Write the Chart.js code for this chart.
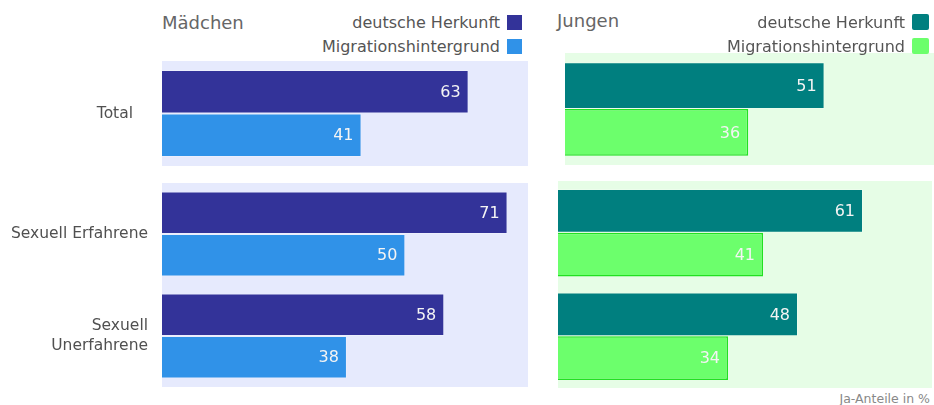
<!DOCTYPE html>
<html>
<head>
<meta charset="utf-8">
<script src="https://cdn.jsdelivr.net/npm/chart.js@4/dist/chart.umd.min.js"></script>
<style>
  body { margin: 0; background: #fff; font-family: 'DejaVu Sans', Verdana, sans-serif; }
  #root { position: relative; width: 934px; height: 405px; overflow: hidden; }
  .box { position: absolute; }
  .title { position: absolute; font-size: 18px; color: #666; line-height: 1; }
  .legend { position: absolute; font-size: 16px; color: #555; text-align: right; z-index: 2; }
  .legend div { height: 24px; line-height: 24px; white-space: nowrap; }
  .legend span.sw { display: inline-block; width: 15px; height: 15px; vertical-align: -2px; margin-left: 7px; }
  .note { position: absolute; right: 4px; top: 391px; font-size: 12.5px; color: #888; }
</style>
</head>
<body>
<div id="root">
  <div class="title" style="left:162px; top:14px;">Mädchen</div>
  <div class="title" style="left:557px; top:12px;">Jungen</div>
  <div class="legend" id="legend-girls" style="right:412px; top:11px;"></div>
  <div class="legend" id="legend-boys" style="right:5px; top:11px;"></div>

  <div class="box" style="left:0; top:61px; width:528px; height:105px;"><canvas id="girls-total"></canvas></div>
  <div class="box" style="left:0; top:183px; width:528px; height:204px;"><canvas id="girls-groups"></canvas></div>
  <div class="box" style="left:565px; top:53px; width:369px; height:112px;"><canvas id="boys-total"></canvas></div>
  <div class="box" style="left:558px; top:181px; width:374px; height:207px;"><canvas id="boys-groups"></canvas></div>

  <div class="note">Ja-Anteile in %</div>
</div>

<script>
// ================= DATA =================
const seriesNames = ['deutsche Herkunft', 'Migrationshintergrund'];
const totalLabels = ['Total'];
const groupLabels = ['Sexuell Erfahrene', ['Sexuell', 'Unerfahrene']];

const girlsGermanTotal = [63];
const girlsMigrantTotal = [41];
const girlsGerman = [71, 58];
const girlsMigrant = [50, 38];

const boysGermanTotal = [51];
const boysMigrantTotal = [36];
const boysGerman = [61, 48];
const boysMigrant = [41, 34];

// colours
const girlsColors = ['#333399', '#3092e8'];
const boysColors = ['#007f7f', '#6cff6c'];
const girlsBg = '#e6eafd';
const boysBg = '#e6fde6';

Chart.defaults.font.family = "'DejaVu Sans', Verdana, sans-serif";

/* ================= PLUGINS ================= */
const panelBg = {
  id: 'panelBg',
  beforeDraw(chart, args, opts) {
    const { ctx, chartArea: a } = chart;
    ctx.save();
    ctx.fillStyle = opts.color;
    ctx.fillRect(a.left, a.top, a.right - a.left, a.bottom - a.top);
    ctx.restore();
  }
};

const valueLabels = {
  id: 'valueLabels',
  afterDatasetsDraw(chart) {
    const ctx = chart.ctx;
    ctx.save();
    ctx.font = "16px 'DejaVu Sans', Verdana, sans-serif";
    ctx.fillStyle = '#f4f4f4';
    ctx.textAlign = 'right';
    ctx.textBaseline = 'middle';
    chart.data.datasets.forEach((ds, i) => {
      chart.getDatasetMeta(i).data.forEach((bar, j) => {
        ctx.fillText(ds.data[j], bar.x - 8, bar.y + 1);
      });
    });
    ctx.restore();
  }
};

function makePanel(id, labels, a, b, colors, bg, xMax, catPct, labelPad) {
  const showLabels = labelPad != null;
  const boys = colors === boysColors;
  return new Chart(document.getElementById(id), {
    type: 'bar',
    data: {
      labels: labels,
      datasets: [
        { label: seriesNames[0], data: a, backgroundColor: colors[0],
          borderColor: 'rgba(255,255,255,0.25)', borderWidth: 1 },
        { label: seriesNames[1], data: b, backgroundColor: colors[1],
          borderColor: boys ? '#22e022' : 'rgba(255,255,255,0.2)',
          borderWidth: boys ? 1.5 : 1 }
      ]
    },
    options: {
      indexAxis: 'y',
      responsive: true,
      maintainAspectRatio: false,
      animation: false,
      layout: { padding: 0 },
      datasets: { bar: { categoryPercentage: catPct, barPercentage: 1 } },
      plugins: {
        legend: { display: false },
        tooltip: { enabled: false },
        panelBg: { color: bg }
      },
      scales: {
        x: { display: false, min: 0, max: xMax },
        y: {
          display: showLabels,
          grid: { display: false, drawTicks: false },
          border: { display: false },
          ticks: {
            padding: labelPad || 0,
            color: '#505050',
            font: { size: 15.5, lineHeight: 1.3 }
          },
          afterFit(scale) {
            if (!showLabels) return;
            scale.width = 162;
            scale.paddingTop = 0;
            scale.paddingBottom = 0;
          }
        }
      }
    },
    plugins: [panelBg, valueLabels]
  });
}

makePanel('girls-total', totalLabels, girlsGermanTotal, girlsMigrantTotal, girlsColors, girlsBg, 75.2, 0.829, 29);
makePanel('girls-groups', groupLabels, girlsGerman, girlsMigrant, girlsColors, girlsBg, 75.2, 0.833, 14);
makePanel('boys-total', totalLabels, boysGermanTotal, boysMigrantTotal, boysColors, boysBg, 72.5, 0.835, null);
makePanel('boys-groups', groupLabels, boysGerman, boysMigrant, boysColors, boysBg, 74.8, 0.845, null);

/* ================= LEGENDS ================= */
function buildLegend(id, colors, rounded) {
  const el = document.getElementById(id);
  seriesNames.forEach((name, i) => {
    const row = document.createElement('div');
    row.textContent = name;
    const sw = document.createElement('span');
    sw.className = 'sw';
    sw.style.background = colors[i];
    if (rounded) { sw.style.borderRadius = '2px'; sw.style.width = '17px'; sw.style.height = '16px'; }
    row.appendChild(sw);
    el.appendChild(row);
  });
}
buildLegend('legend-girls', girlsColors, false);
buildLegend('legend-boys', boysColors, true);
</script>
</body>
</html>
